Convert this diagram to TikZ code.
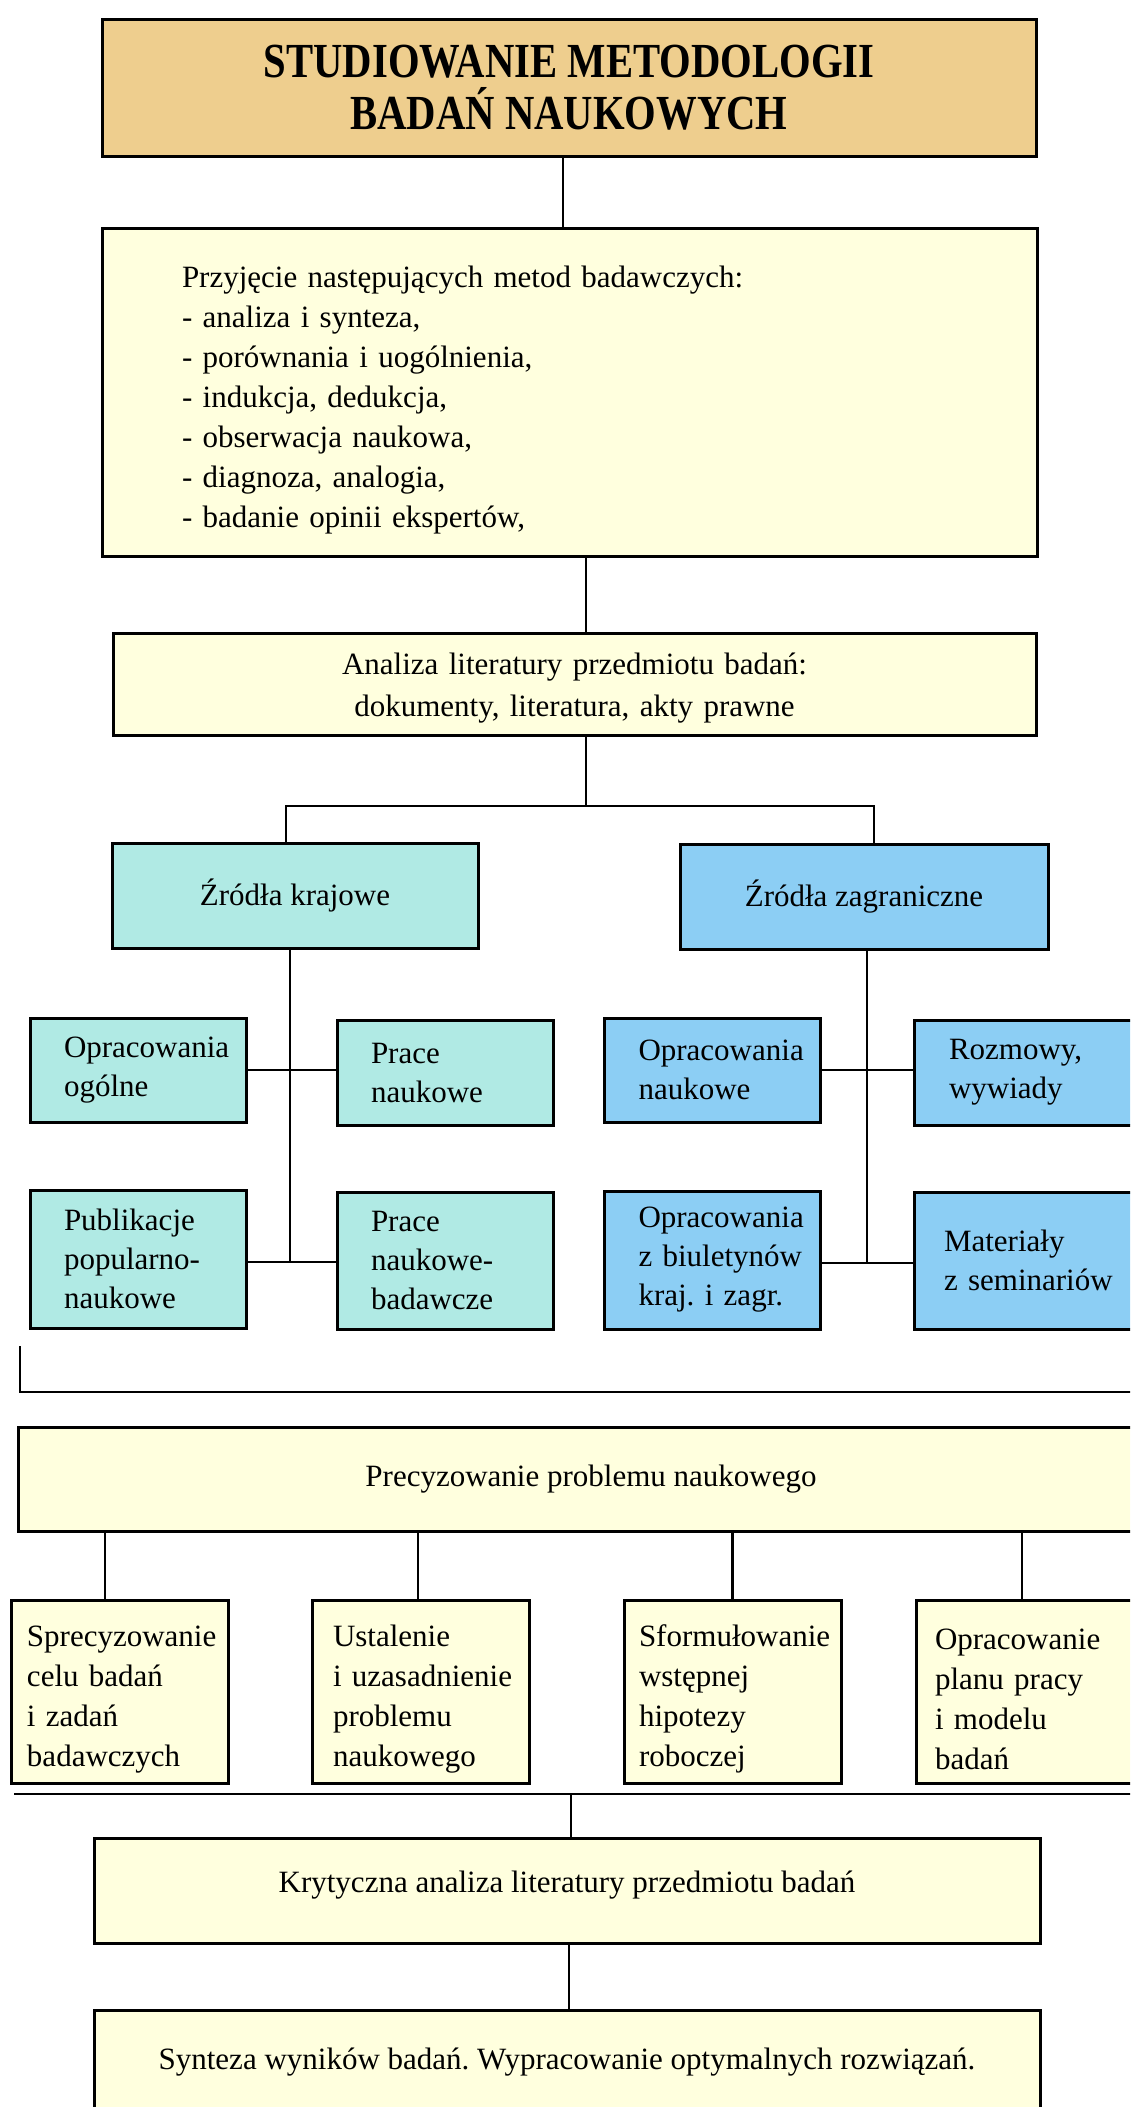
\documentclass[tikz,border=0pt]{standalone}
\usepackage{fontspec}
\setmainfont{Liberation Serif}
\newfontfamily\headfont{Liberation Serif}[FakeStretch=0.83]
\hfuzz=60pt
\hyphenpenalty=10000
\exhyphenpenalty=10000
\frenchspacing
\definecolor{titlefill}{RGB}{238,206,142}
\definecolor{paperfill}{RGB}{255,255,222}
\definecolor{homefill}{RGB}{176,234,228}
\definecolor{abroadfill}{RGB}{140,206,244}

\begin{document}
\begin{tikzpicture}[
    x = 1pt, y = -1pt,
    box/.style = {draw, line width=3pt, rectangle, inner sep=0pt,
                  font=\fontsize{31}{39}\selectfont},
    wire/.style = {line width=2.4pt},
    headbox/.style = {box, fill=titlefill, align=center,
                      font=\headfont\bfseries\fontsize{49}{52}\selectfont},
    notebox/.style = {box, fill=paperfill, align=center},
    leaf/.style = {box, text width=216pt, align=left,
                   execute at begin node={\leftskip=#1\relax}},
    leaf/.default = 34pt,
    taskbox/.style = {box, fill=paperfill, text width=217pt, minimum height=183pt,
                      text height=37pt, align=left,
                      font=\fontsize{31}{40}\selectfont,
                      execute at begin node={\leftskip=#1\relax}},
    taskbox/.default = 16pt]

\useasboundingbox (0,0) rectangle (1130,2107);
\clip (0,0) rectangle (1130,2107);

\node[headbox, minimum width=934pt, minimum height=137pt] (title) at (569,87.5)
    {STUDIOWANIE METODOLOGII\\BADAŃ NAUKOWYCH};
\node[box, fill=paperfill, inner xsep=80pt, text width=775pt, minimum height=328pt,
      text height=38pt, align=left, font=\fontsize{31}{40}\selectfont] (methods) at (569.5,392)
    {Przyjęcie następujących metod badawczych:\\
     - analiza i synteza,\\
     - porównania i uogólnienia,\\
     - indukcja, dedukcja,\\
     - obserwacja naukowa,\\
     - diagnoza, analogia,\\
     - badanie opinii ekspertów,};
\node[notebox, text width=923pt, minimum height=102pt, text height=30pt,
      font=\fontsize{31}{42}\selectfont] (lit) at (574.5,684)
    {Analiza literatury przedmiotu badań:\\dokumenty, literatura, akty prawne};

\node[box, fill=homefill, minimum width=366pt, minimum height=105pt] (home) at (295,895.5)
    {Źródła krajowe};
\node[box, fill=abroadfill, minimum width=368pt, minimum height=105pt] (abroad) at (864,896.5)
    {Źródła zagraniczne};

\node[leaf, fill=homefill, minimum height=104pt] (general) at (138,1070)
    {Opracowania\\ogólne};
\node[leaf, fill=homefill, minimum height=105pt] (works) at (445,1072.5)
    {Prace\\naukowe};
\node[leaf, fill=homefill, minimum height=138pt] (popular) at (138,1259)
    {Publikacje\\popularno-\\naukowe};
\node[leaf, fill=homefill, minimum height=137pt] (research) at (445,1260.5)
    {Prace\\naukowe-\\badawcze};
\node[leaf, fill=abroadfill, minimum height=104pt] (studies) at (712.5,1070)
    {Opracowania\\naukowe};
\node[leaf=35pt, fill=abroadfill, minimum height=105pt, text width=222pt] (talks) at (1025,1072.5)
    {Rozmowy,\\wywiady};
\node[leaf, fill=abroadfill, minimum height=138pt] (bulletins) at (712.5,1260)
    {Opracowania\\z biuletynów\\kraj. i zagr.};
\node[leaf=30pt, fill=abroadfill, minimum height=137pt, text width=222pt] (seminars) at (1025,1260.5)
    {Materiały\\z seminariów};

\node[notebox, minimum width=1146pt, minimum height=104pt] (problem) at (591,1479)
    {Precyzowanie problemu naukowego};
\node[taskbox] (aim) at (119.5,1691.5)
    {Sprecyzowanie\\celu badań\\i zadań\\badawczych};
\node[taskbox=21pt] (justify) at (420.5,1691.5)
    {Ustalenie\\i uzasadnienie\\problemu\\naukowego};
\node[taskbox=15pt] (hypo) at (732.5,1691.5)
    {Sformułowanie\\wstępnej\\hipotezy\\roboczej};
\node[taskbox=19pt, text width=225pt] (plan) at (1028.5,1691.5)
    {Opracowanie\\planu pracy\\i modelu\\badań};

\node[notebox, minimum width=946pt, minimum height=105pt, text depth=17pt] (critic) at (567,1890.5)
    {Krytyczna analiza literatury przedmiotu badań};
\node[notebox, minimum width=946pt, minimum height=105pt] (synth) at (567,2062.5)
    {Synteza wyników badań. Wypracowanie optymalnych rozwiązań.};

\coordinate (split) at (586,806);
\coordinate (hometrunk) at (290,1262);
\coordinate (abroadtrunk) at (867,1263);
\coordinate (brtop) at (20,1346);
\coordinate (brend) at (1135,1392);
\coordinate (joinl) at (14,1794);
\coordinate (joinr) at (1135,1794);

\draw[wire] ([xshift=-6pt]title.south) -- ([xshift=-6pt]title.south |- methods.north);
\draw[wire] (split |- methods.south) -- (split |- lit.north);
\draw[wire] (split |- lit.south) -- (split);
\draw[wire] ([xshift=-9pt]home.north) |- (split) -| ([xshift=10pt]abroad.north);

\draw[wire] (hometrunk |- home.south) -- (hometrunk);
\draw[wire] (general.east) -- (general.east -| works.west);
\draw[wire] (hometrunk -| popular.east) -- (hometrunk -| research.west);
\draw[wire] (abroadtrunk |- abroad.south) -- (abroadtrunk);
\draw[wire] (studies.east) -- (studies.east -| talks.west);
\draw[wire] (abroadtrunk -| bulletins.east) -- (abroadtrunk -| seminars.west);

\draw[wire] (brtop) |- (brend);

\foreach \b/\dx in {aim/-14.5, justify/-2.5, hypo/0, plan/-6.5}
    \draw[wire] ([xshift=\dx pt]\b.north) -- ([xshift=\dx pt]\b.north |- problem.south);

\draw[wire] (joinl) -- (joinr);
\draw[wire] ([xshift=4pt]critic.north |- joinl) -- ([xshift=4pt]critic.north);
\draw[wire] ([xshift=2pt]critic.south) -- ([xshift=2pt]synth.north);
\end{tikzpicture}
\end{document}
